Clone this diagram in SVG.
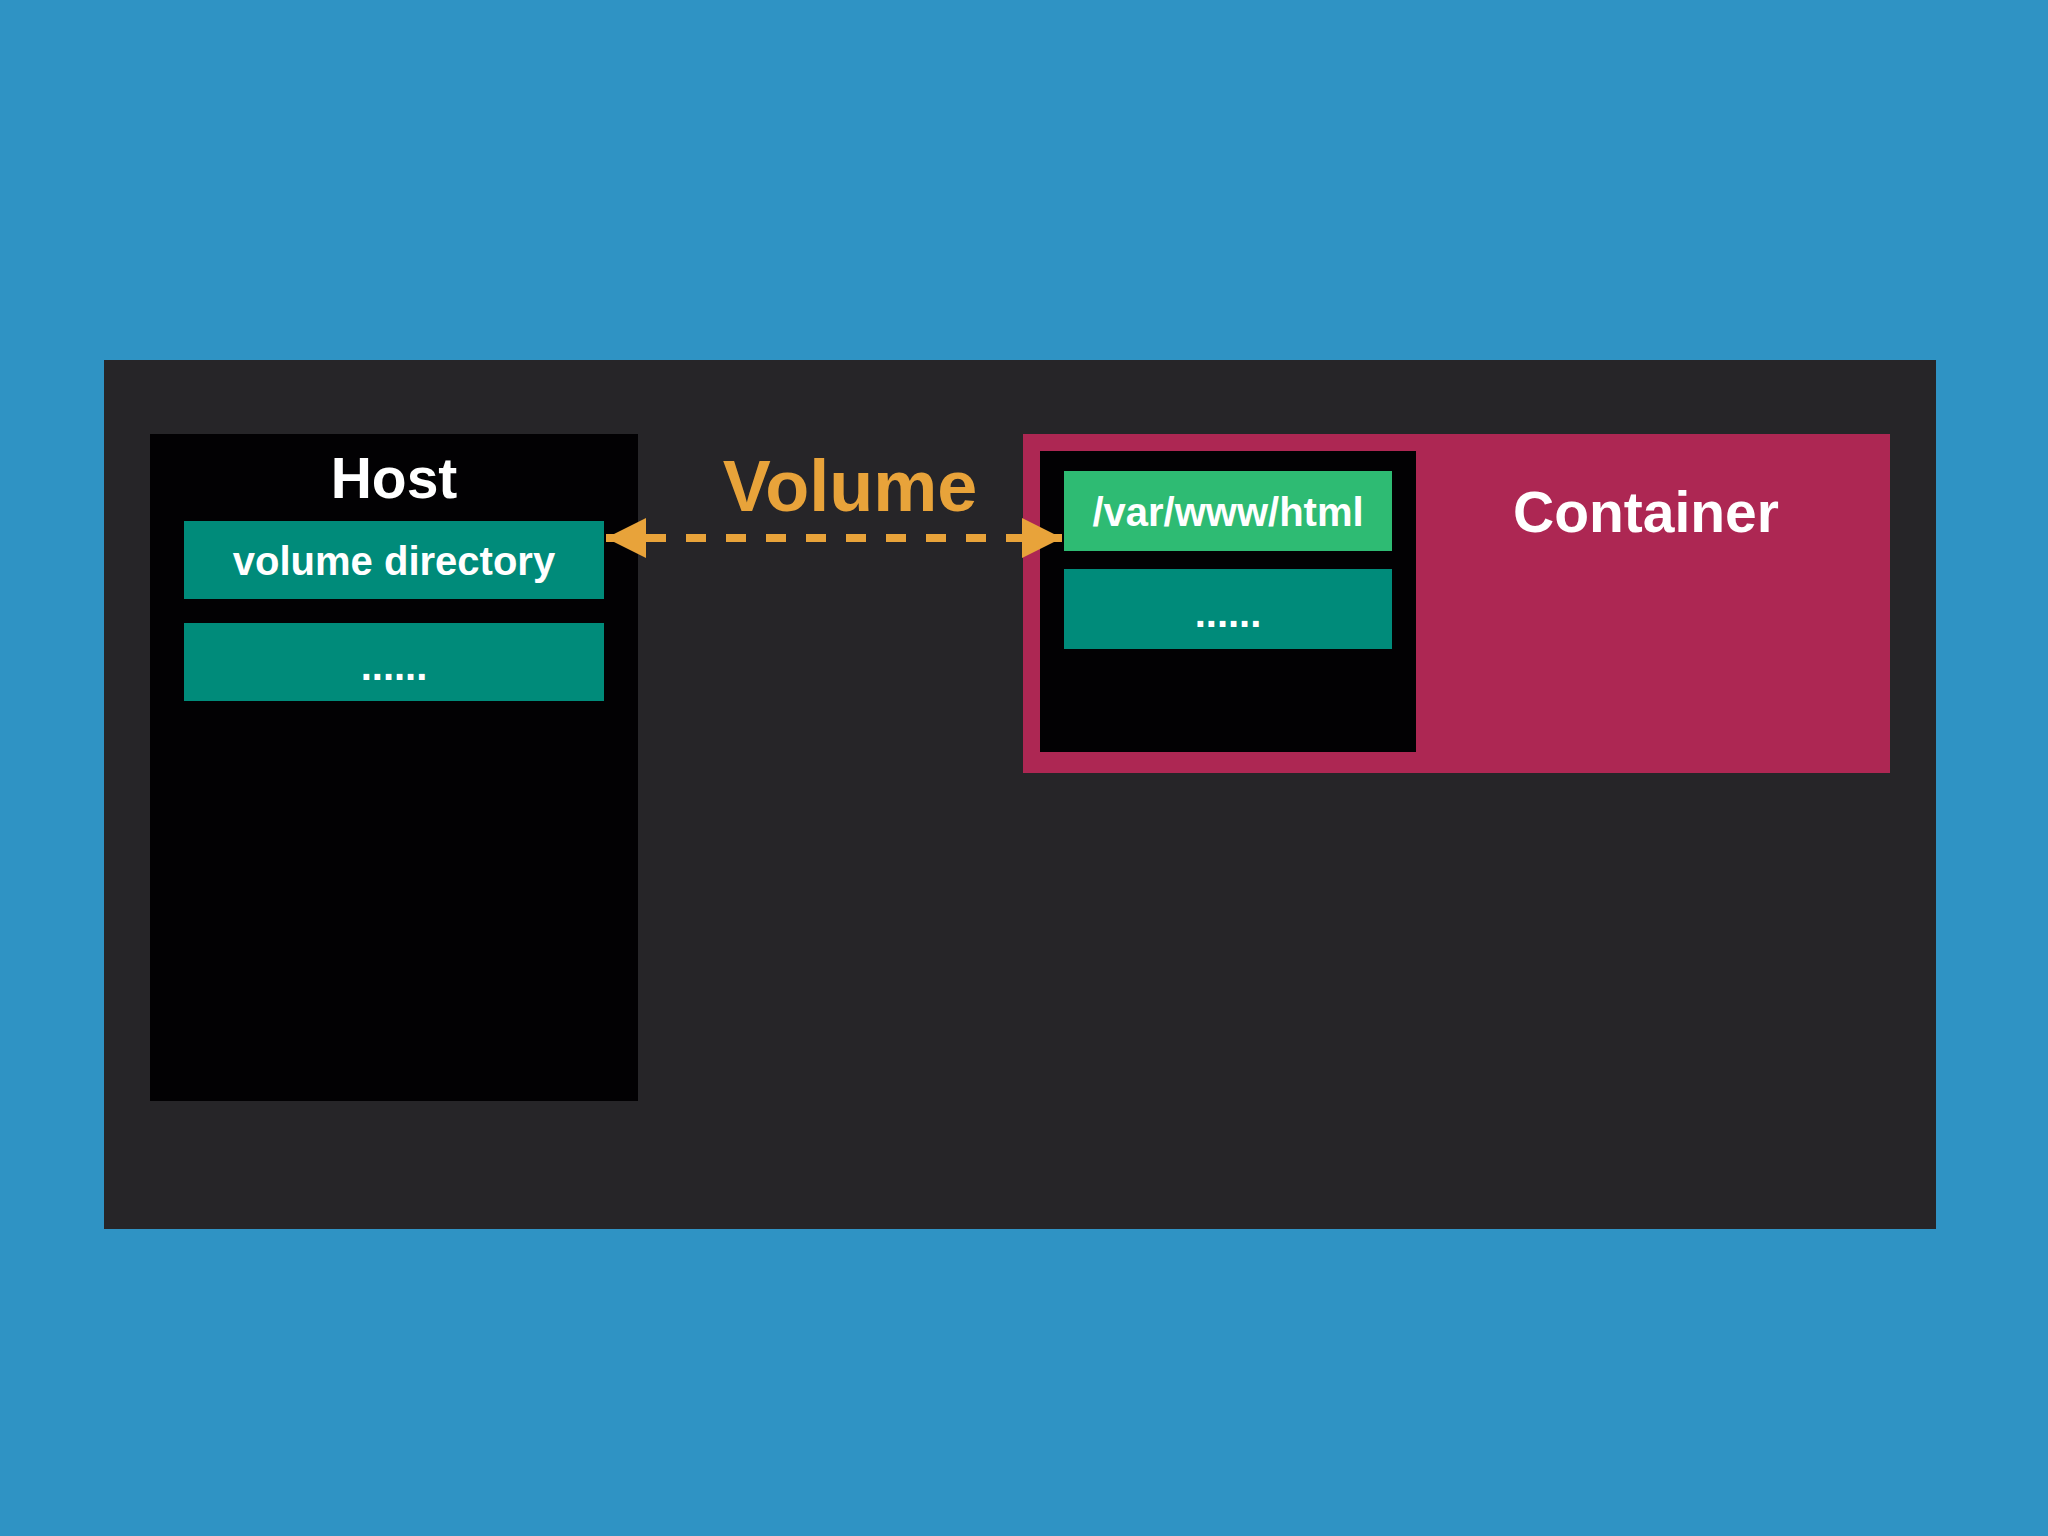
<svg xmlns="http://www.w3.org/2000/svg" width="2048" height="1536" viewBox="0 0 2048 1536">
<style>
text{font-family:"Liberation Sans",Arial,sans-serif;font-weight:bold;text-anchor:middle}
.w{fill:#fff}
.teal{fill:#008b7a}
</style>
<defs>
<marker id="ah" viewBox="0 0 10 10" refX="10" refY="5" markerWidth="5" markerHeight="5" orient="auto-start-reverse" markerUnits="strokeWidth">
<path d="M0,0 L10,5 L0,10 z" fill="#e8a33a"/>
</marker>
</defs>
<rect width="2048" height="1536" fill="#2f93c4"/>
<rect x="104" y="360" width="1832" height="869" fill="#262528"/>
<g id="host">
<rect x="150" y="434" width="488" height="667" fill="#020103"/>
<text class="w" x="394" y="498" font-size="57">Host</text>
</g>
<g id="volume-directory">
<rect class="teal" x="184" y="521" width="420" height="78"/>
<text class="w" x="394" y="575" font-size="40">volume directory</text>
</g>
<g id="host-more">
<rect class="teal" x="184" y="623" width="420" height="78"/>
<text class="w" x="394" y="680" font-size="40">......</text>
</g>
<g id="container">
<rect x="1023" y="434" width="867" height="339" fill="#ad2753"/>
<rect x="1040" y="451" width="376" height="301" fill="#020103"/>
<text class="w" x="1646" y="532" font-size="57">Container</text>
</g>
<g id="var-www-html">
<rect x="1064" y="471" width="328" height="80" fill="#2ebb73"/>
<text class="w" x="1228" y="526" font-size="40">/var/www/html</text>
</g>
<g id="container-more">
<rect class="teal" x="1064" y="569" width="328" height="80"/>
<text class="w" x="1228" y="627" font-size="40">......</text>
</g>
<g id="connectors">
<line x1="606" y1="538" x2="1062" y2="538" stroke="#e8a33a" stroke-width="8" stroke-dasharray="20,20" marker-start="url(#ah)" marker-end="url(#ah)"/>
<text x="850" y="511" font-size="72" fill="#e8a33a">Volume</text>
</g>
</svg>
